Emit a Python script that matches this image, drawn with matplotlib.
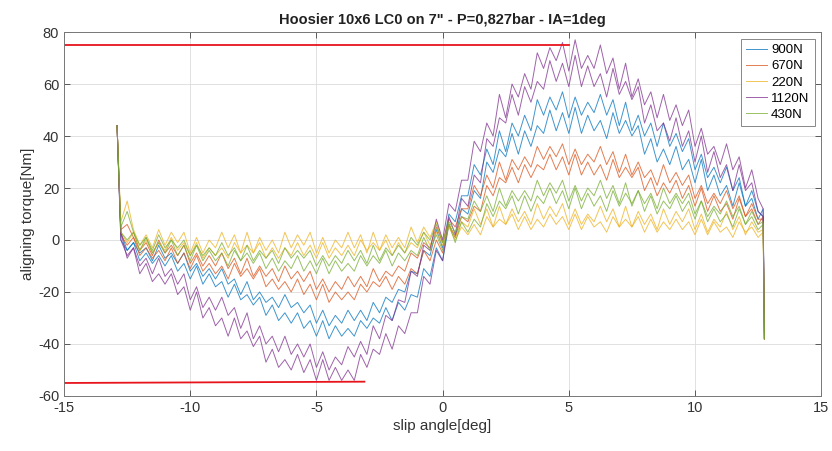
import numpy as np
import matplotlib
matplotlib.use("Agg")
import matplotlib.pyplot as plt

plt.rcParams['font.family'] = ['Liberation Sans', 'DejaVu Sans']
plt.rcParams['axes.unicode_minus'] = False

# slip angle sweep [deg]
slip = [-12.9,
        -12.75, -12.5, -12.25, -12.0, -11.75, -11.5, -11.25, -11.0, -10.75, -10.5, -10.25, -10.0,
        -9.75, -9.5, -9.25, -9.0, -8.75, -8.5, -8.25, -8.0, -7.75, -7.5, -7.25, -7.0,
        -6.75, -6.5, -6.25, -6.0, -5.75, -5.5, -5.25, -5.0, -4.75, -4.5, -4.25, -4.0,
        -3.75, -3.5, -3.25, -3.0, -2.75, -2.5, -2.25, -2.0, -1.75, -1.5, -1.25, -1.0,
        -0.75, -0.5, -0.25, 0.0, 0.25, 0.5, 0.75, 1.0, 1.25, 1.5, 1.75, 2.0,
        2.25, 2.5, 2.75, 3.0, 3.25, 3.5, 3.75, 4.0, 4.25, 4.5, 4.75, 5.0,
        5.25, 5.5, 5.75, 6.0, 6.25, 6.5, 6.75, 7.0, 7.25, 7.5, 7.75, 8.0,
        8.25, 8.5, 8.75, 9.0, 9.25, 9.5, 9.75, 10.0, 10.25, 10.5, 10.75, 11.0,
        11.25, 11.5, 11.75, 12.0, 12.25, 12.5, 12.7, 12.75]

# aligning torque [Nm], two passes per vertical load
mz_900_a = [44,
    3, -4, -1, -5, -3, -8, -2, -7, -5, -9, -5, -12,
    -9, -14, -11, -15, -11, -17, -15, -21, -16, -23, -20, -24,
    -22, -26, -21, -26, -24, -28, -25, -32, -27, -33, -29, -32,
    -27, -31, -27, -31, -24, -28, -22, -24, -19, -20, -12, -13,
    -4, -6, 4, -3, 10, 7, 17, 17, 29, 25, 35, 29,
    42, 34, 45, 40, 48, 42, 54, 48, 55, 50, 57, 47,
    55, 48, 53, 49, 56, 48, 54, 44, 53, 42, 48, 40,
    45, 36, 45, 36, 41, 34, 39, 27, 33, 24, 28, 22,
    28, 19, 24, 13, 19, 11, 9, -38]
mz_900_b = [44,
    0, -4, -1, -8, -5, -9, -6, -10, -6, -12, -9, -15,
    -10, -17, -13, -18, -16, -22, -17, -23, -21, -25, -22, -29,
    -25, -31, -28, -32, -28, -34, -31, -37, -31, -38, -33, -37,
    -34, -37, -31, -34, -30, -32, -26, -31, -24, -27, -21, -22,
    -11, -14, -3, -8, 6, 1, 12, 10, 19, 16, 30, 26,
    35, 32, 41, 33, 42, 36, 44, 41, 50, 42, 49, 41,
    51, 41, 48, 42, 46, 39, 49, 41, 46, 40, 44, 33,
    39, 30, 35, 29, 36, 27, 31, 22, 31, 19, 25, 17,
    21, 13, 22, 13, 16, 8, 12, -38]
mz_670_a = [44,
    4, 6, 1, -4, -1, -6, 0, -5, -2, -6, -2, -9,
    -5, -10, -6, -10, -5, -11, -7, -13, -7, -14, -10, -14,
    -11, -16, -10, -15, -12, -16, -12, -19, -15, -20, -16, -19,
    -14, -18, -14, -18, -11, -16, -12, -14, -10, -12, -5, -7,
    -1, -3, 5, -1, 8, 5, 12, 12, 21, 17, 25, 20,
    30, 23, 31, 27, 32, 28, 36, 31, 36, 32, 37, 29,
    35, 29, 33, 30, 36, 29, 34, 26, 33, 25, 30, 24,
    27, 21, 29, 22, 26, 21, 25, 16, 21, 14, 18, 14,
    19, 12, 17, 9, 14, 8, 8, -38]
mz_670_b = [44,
    2, -2, 1, -6, -3, -7, -4, -8, -3, -9, -5, -11,
    -6, -12, -9, -13, -10, -15, -9, -14, -11, -15, -11, -18,
    -15, -19, -16, -20, -15, -21, -17, -23, -17, -24, -20, -23,
    -20, -23, -17, -20, -16, -18, -14, -19, -14, -17, -11, -13,
    -4, -8, 0, -5, 6, 1, 9, 7, 13, 11, 21, 17,
    24, 22, 28, 22, 29, 24, 29, 27, 33, 27, 32, 25,
    33, 25, 30, 25, 29, 23, 31, 24, 28, 24, 28, 19,
    24, 17, 22, 18, 23, 16, 21, 13, 20, 11, 17, 11,
    14, 8, 16, 9, 12, 6, 9, -38]
mz_220_a = [44,
    7, 15, 4, -2, 2, -3, 4, -2, 3, -1, 3, -5,
    1, -5, 0, -3, 3, -3, 2, -5, 3, -5, 1, -4,
    0, -5, 3, -3, 2, -2, 3, -5, 1, -5, 0, -3,
    3, -3, 2, -5, 3, -4, 2, -3, 1, -3, 5, -1,
    5, 1, 7, -1, 6, 1, 7, 5, 12, 6, 12, 5,
    13, 6, 12, 7, 11, 6, 14, 8, 13, 9, 14, 6,
    12, 6, 10, 7, 13, 7, 12, 5, 13, 5, 11, 6,
    10, 4, 12, 6, 11, 7, 12, 4, 10, 3, 8, 5,
    11, 4, 9, 2, 7, 3, 4, -38]
mz_220_b = [44,
    3, -1, 3, -4, 0, -5, -1, -4, 1, -4, -1, -6,
    -1, -7, -3, -6, -3, -7, -1, -5, -2, -5, -1, -7,
    -3, -7, -3, -6, -1, -6, -2, -7, -1, -7, -3, -6,
    -2, -6, 0, -4, -1, -4, 0, -6, -1, -5, -1, -3,
    3, -2, 3, -2, 5, 0, 5, 2, 6, 2, 9, 5,
    8, 6, 10, 4, 9, 4, 8, 5, 10, 6, 9, 4,
    10, 4, 9, 5, 7, 3, 9, 5, 8, 5, 9, 3,
    8, 3, 7, 4, 8, 4, 7, 2, 8, 2, 7, 3,
    5, 1, 7, 3, 5, 1, 3, -38]
mz_1120_a = [44,
    3, -7, -3, -10, -7, -13, -7, -14, -11, -17, -13, -23,
    -18, -26, -22, -27, -22, -29, -26, -34, -28, -38, -33, -40,
    -37, -43, -37, -44, -40, -45, -40, -49, -43, -50, -45, -48,
    -41, -45, -39, -44, -33, -38, -29, -31, -23, -24, -12, -14,
    -2, -4, 8, 0, 14, 11, 23, 23, 38, 34, 45, 40,
    56, 47, 60, 55, 64, 58, 72, 66, 74, 69, 76, 65,
    77, 66, 71, 66, 75, 64, 70, 58, 68, 55, 62, 52,
    57, 47, 56, 46, 52, 44, 50, 36, 43, 33, 36, 29,
    37, 27, 32, 20, 27, 16, 12, -38]
mz_1120_b = [44,
    0, -6, -3, -13, -9, -16, -13, -17, -13, -21, -18, -27,
    -20, -30, -26, -33, -30, -37, -30, -38, -35, -41, -37, -47,
    -42, -49, -46, -50, -44, -51, -46, -54, -46, -54, -49, -54,
    -50, -54, -44, -49, -42, -44, -36, -42, -33, -36, -28, -28,
    -14, -17, -4, -8, 9, 2, 16, 13, 25, 22, 39, 36,
    47, 45, 56, 48, 59, 53, 61, 58, 69, 61, 68, 59,
    71, 59, 67, 59, 64, 55, 66, 56, 61, 54, 59, 45,
    52, 42, 45, 38, 47, 36, 42, 30, 40, 26, 34, 24,
    29, 19, 29, 19, 22, 11, 9, -38]
mz_430_a = [44,
    5, 11, 3, -2, 1, -4, 2, -3, 0, -3, 0, -6,
    -2, -6, -3, -6, -1, -6, -3, -8, -2, -8, -4, -7,
    -4, -9, -3, -7, -4, -7, -4, -10, -6, -10, -6, -9,
    -4, -8, -4, -9, -2, -8, -3, -6, -2, -5, 1, -2,
    3, 0, 6, -1, 7, 3, 9, 8, 15, 11, 17, 11,
    20, 13, 19, 15, 19, 15, 23, 17, 22, 18, 23, 15,
    21, 15, 20, 17, 23, 16, 21, 14, 22, 13, 19, 14,
    18, 12, 20, 14, 18, 14, 18, 10, 15, 9, 13, 10,
    15, 9, 13, 6, 11, 6, 7, -38]
mz_430_b = [44,
    3, 0, 3, -4, 1, -5, -1, -5, 0, -6, -2, -8,
    -2, -8, -4, -8, -5, -10, -4, -8, -5, -9, -5, -11,
    -7, -12, -8, -11, -6, -12, -8, -13, -7, -13, -8, -12,
    -9, -12, -6, -10, -6, -9, -4, -10, -5, -8, -4, -6,
    1, -4, 2, -4, 6, -1, 7, 3, 8, 5, 14, 9,
    15, 12, 17, 10, 17, 11, 17, 14, 20, 14, 19, 12,
    20, 12, 18, 13, 17, 11, 19, 13, 18, 14, 19, 11,
    17, 10, 15, 12, 17, 11, 15, 8, 15, 7, 12, 7,
    10, 5, 12, 6, 9, 4, 6, -38]

loads = ['900N', '670N', '220N', '1120N', '430N']
colors = ['#0072BD', '#D95319', '#EDB120', '#7E2F8E', '#77AC30']
passes = [(mz_900_a, mz_900_b), (mz_670_a, mz_670_b), (mz_220_a, mz_220_b),
          (mz_1120_a, mz_1120_b), (mz_430_a, mz_430_b)]

# red reference lines
ref_top_x = [-15, 5]
ref_top_y = [75, 75]
ref_bot_x = [-15, -3.1]
ref_bot_y = [-55, -54.5]

fig = plt.figure(figsize=(8.32, 4.51), dpi=100)
ax = fig.add_axes([0.077, 0.122, 0.91, 0.807])

for name, col, (pa, pb) in zip(loads, colors, passes):
    ax.plot(slip, pa, color=col, lw=0.7, alpha=0.75, label=name)
    ax.plot(slip, pb, color=col, lw=0.7, alpha=0.75)

ax.plot(ref_top_x, ref_top_y, color='#e8141c', lw=1.3)
ax.plot(ref_bot_x, ref_bot_y, color='#e8141c', lw=1.3)

ax.set_xlim(-15, 15)
ax.set_ylim(-60, 80)
ax.set_xticks([-15, -10, -5, 0, 5, 10, 15])
ax.set_yticks([-60, -40, -20, 0, 20, 40, 60, 80])
ax.grid(True, color='#dcdcdc', lw=0.6)
ax.set_axisbelow(True)
ax.tick_params(direction='in', top=True, right=True, length=4, width=0.6,
               colors='#444444', labelsize=10.5, labelcolor='#333333')
for s in ax.spines.values():
    s.set_color('#777777')
    s.set_linewidth(0.7)

ax.set_xlabel('slip angle[deg]', fontsize=11, color='#333333', labelpad=3)
ax.set_ylabel('aligning torque[Nm]', fontsize=11, color='#333333', labelpad=2)
ax.set_title('Hoosier 10x6 LC0 on 7" - P=0,827bar - IA=1deg', fontsize=10.5,
             fontweight='bold', color='#222222', pad=6)

leg = ax.legend(loc='upper right', fontsize=9.5, handlelength=1.6, handletextpad=0.3,
                borderpad=0.4, labelspacing=0.3, fancybox=False, framealpha=1,
                borderaxespad=0.5)
leg.get_frame().set_edgecolor('#888888')
leg.get_frame().set_linewidth(0.7)

fig.savefig('out.png', dpi=100)
